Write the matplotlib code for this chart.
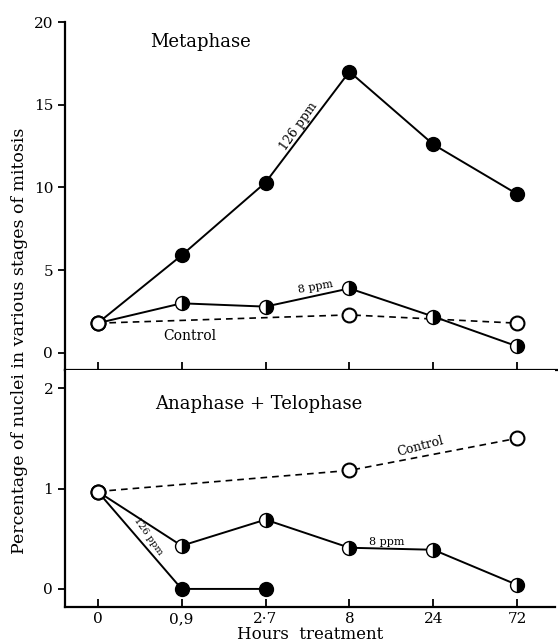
import numpy as np
import matplotlib.pyplot as plt

hours = ["0", "0,9", "2·7", "8", "24", "72"]

# Metaphase (top panel)
meta_126 = [1.8, 5.9, 10.3, 17.0, 12.6, 9.6]
meta_8 = [1.8, 3.0, 2.8, 3.9, 2.2, 0.4]
meta_ctrl_idx = [0, 3, 5]
meta_ctrl = [1.8, 2.3, 1.8]

# Anaphase + Telophase (bottom panel)
ana_126 = [0.97, 0.0, 0.0]
ana_8 = [0.97, 0.43, 0.69, 0.41, 0.39, 0.04]
ana_ctrl_idx = [0, 3, 5]
ana_ctrl = [0.97, 1.18, 1.50]

plt.rcParams['font.family'] = ['DejaVu Serif']

fig = plt.figure(figsize=(5.58, 6.43), dpi=100)
left, width = 65 / 558, 490 / 558
ax1 = fig.add_axes([left, 1 - 370 / 643, width, 348 / 643])
ax2 = fig.add_axes([left, 1 - 607 / 643, width, 237 / 643])

x = np.arange(len(hours))
lw = 1.4
filled = dict(marker='o', ms=10, mfc='black', mec='black', color='black', lw=lw)
half = dict(marker='o', ms=10, mfc='black', mec='black', mfcalt='white',
            fillstyle='right', color='black', lw=lw)
hollow = dict(marker='o', ms=10, mfc='white', mec='black', mew=1.5, color='black', lw=1.2, ls=(0, (4, 3)))
start = dict(ls='none', marker='o', ms=10, mfc='white', mec='black', mew=1.5, zorder=5)


def style(ax, ylim, yticks):
    ax.set_xlim(-0.39, 5.45)
    ax.set_ylim(*ylim)
    ax.set_yticks(yticks)
    ax.set_xticks(x)
    for s in ['top', 'right']:
        ax.spines[s].set_visible(False)
    for s in ['left', 'bottom']:
        ax.spines[s].set_linewidth(1.6)
    ax.tick_params(axis='x', direction='in', length=6, width=1.3)
    ax.tick_params(axis='y', direction='out', length=5, width=1.3, labelsize=11)


# top panel
ax1.plot(x, meta_126, zorder=3, **filled)
ax1.plot(x, meta_8, zorder=3, **half)
ax1.plot(x[meta_ctrl_idx], meta_ctrl, zorder=2, **hollow)
ax1.plot(x[:1], meta_ctrl[:1], **start)
style(ax1, (-1.03, 20), [0, 5, 10, 15, 20])
ax1.set_xticklabels([])
ax1.spines['bottom'].set_bounds(-0.39, 5.55)
ax1.text(0.62, 18.5, "Metaphase", fontsize=13)
ax1.text(2.4, 13.7, "126 ppm", fontsize=9, rotation=55, ha='center', va='center')
ax1.text(2.6, 4.0, "8 ppm", fontsize=8, rotation=10, ha='center', va='center')
ax1.text(1.1, 1.0, "Control", fontsize=10, ha='center', va='center')

# bottom panel
ax2.plot(x[:3], ana_126, zorder=3, **filled)
ax2.plot(x, ana_8, zorder=3, **half)
ax2.plot(x[ana_ctrl_idx], ana_ctrl, zorder=2, **hollow)
ax2.plot(x[:1], ana_ctrl[:1], **start)
style(ax2, (-0.18, 2.18), [0, 1, 2])
ax2.set_xticklabels(hours, fontsize=11)
ax2.text(0.68, 1.79, "Anaphase + Telophase", fontsize=13)
ax2.text(0.6, 0.52, "126 ppm", fontsize=7, rotation=-55, ha='center', va='center')
ax2.text(3.45, 0.47, "8 ppm", fontsize=8, ha='center', va='center')
ax2.text(3.85, 1.42, "Control", fontsize=9, rotation=15, ha='center', va='center')
ax2.set_xlabel("Hours  treatment", fontsize=12, labelpad=0)

fig.text(0.035, 0.47, "Percentage of nuclei in various stages of mitosis",
         rotation=90, ha='center', va='center', fontsize=12.5)

fig.savefig("out.png", dpi=100, facecolor='white')
